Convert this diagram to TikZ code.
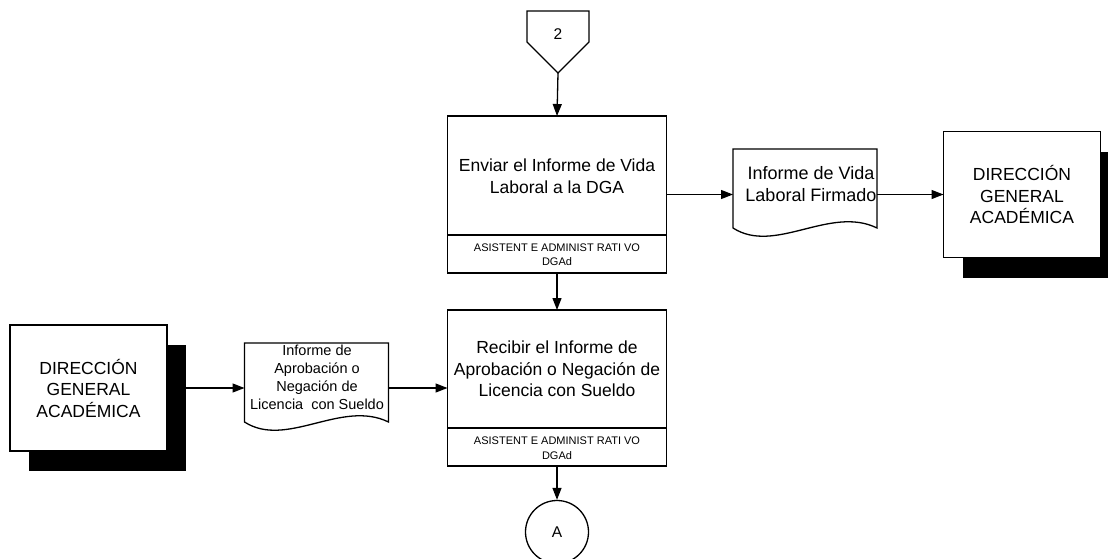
\documentclass[tikz,border=0pt]{standalone}
\usepackage{fontspec}
\setmainfont{Liberation Sans}
\usetikzlibrary{arrows.meta,calc,shadows}

\begin{document}
\begin{tikzpicture}[x=1pt,y=-1pt,
  arr/.style={-{Triangle[length=12pt,width=9pt]}, line width=1.3pt},
  procbox/.style={draw, line width=1.7pt, fill=white, minimum width=219pt, inner sep=0pt, outer sep=0pt},
  divline/.style={line width=1.7pt},
  bigtext/.style={align=center, inner sep=0pt, font=\fontsize{17.5}{21.5}\selectfont},
  roletext/.style={align=center, inner sep=0pt, font=\fontsize{11}{14.5}\selectfont},
  docframe/.style={inner sep=0pt, outer sep=0pt, minimum width=144pt, minimum height=79pt},
  docline/.style={draw, line width=1.3pt, fill=white},
  entity/.style={draw, line width=1.4pt, fill=white, minimum width=157pt, minimum height=126pt,
    inner sep=0pt, outer sep=0pt, align=center, font=\fontsize{17.5}{21.5}\selectfont,
    drop shadow={shadow xshift=19pt, shadow yshift=-20pt, fill=black, opacity=1}},
  connector/.style={draw, line width=1.3pt, fill=white},
  conntext/.style={inner sep=0pt, font=\fontsize{15.5}{18}\selectfont}
]
\useasboundingbox (0,0) rectangle (1108,559);

% off-page connector 2
\draw[connector] (527,11) -- (589,11) -- (589,42) -- (558,73) -- (527,42) -- cycle;
\node[conntext] (c2) at (558,34) {2};
\coordinate (c2tip) at (558,73);

% first activity
\node[procbox, minimum height=157pt] (box1) at (557,194.5) {};
\coordinate (div1) at (557,235);
\draw[divline] (box1.west |- div1) -- (box1.east |- div1);
\node[bigtext] (t1) at (557,176) {Enviar el Informe de Vida\\Laboral a la DGA};
\node[roletext] (r1) at (557,254.5) {ASISTENT E ADMINIST RATI VO\\DGAd};

% signed document
\node[docframe] (doc1) at (805,188.5) {};
\draw[docline] (doc1.south west) -- (doc1.north west) -- (doc1.north east) -- (doc1.south east)
  .. controls ($(doc1.south east)+(-47,-23)$) and ($(doc1.south west)+(42,27)$) .. (doc1.south west) -- cycle;
\node[align=center, inner sep=0pt, font=\fontsize{18}{22}\selectfont] (d1t) at (811,184) {Informe de Vida\\Laboral Firmado};

% receiving entity
\node[entity] (dga2) at (1022,194.5) {DIRECCIÓN\\GENERAL\\ACADÉMICA};

% sending entity
\node[entity] (dga1) at (88.5,388) {DIRECCIÓN\\GENERAL\\ACADÉMICA};

% approval document
\node[docframe] (doc2) at (316.5,382.5) {};
\draw[docline] (doc2.south west) -- (doc2.north west) -- (doc2.north east) -- (doc2.south east)
  .. controls ($(doc2.south east)+(-47,-23)$) and ($(doc2.south west)+(42,27)$) .. (doc2.south west) -- cycle;
\node[align=center, inner sep=0pt, font=\fontsize{14.5}{18}\selectfont] (d2t) at (317,377.5)
  {Informe de\\Aprobación o\\Negación de\\Licencia\ \ con Sueldo};

% second activity
\node[procbox, minimum height=156pt] (box2) at (557,388) {};
\coordinate (div2) at (557,428);
\draw[divline] (box2.west |- div2) -- (box2.east |- div2);
\node[bigtext] (t2) at (557,369) {Recibir el Informe de\\Aprobación o Negación de\\Licencia con Sueldo};
\node[roletext] (r2) at (557,448) {ASISTENT E ADMINIST RATI VO\\DGAd};

% on-page connector A
\node[circle, connector, minimum size=63pt, inner sep=0pt, font=\fontsize{15.5}{18}\selectfont] (cA) at (557,532) {A};

% flow
\draw[arr] (c2tip) -- (box1.north);
\draw[arr] (box1.east) -- (box1.east -| doc1.west);
\draw[arr] (doc1.east |- dga2.west) -- (dga2.west);
\draw[arr] (box1.south) -- (box2.north);
\draw[arr] (dga1.east) -- (dga1.east -| doc2.west);
\draw[arr] (doc2.east |- box2.west) -- (box2.west);
\draw[arr] (box2.south) -- (cA.north);
\end{tikzpicture}
\end{document}
